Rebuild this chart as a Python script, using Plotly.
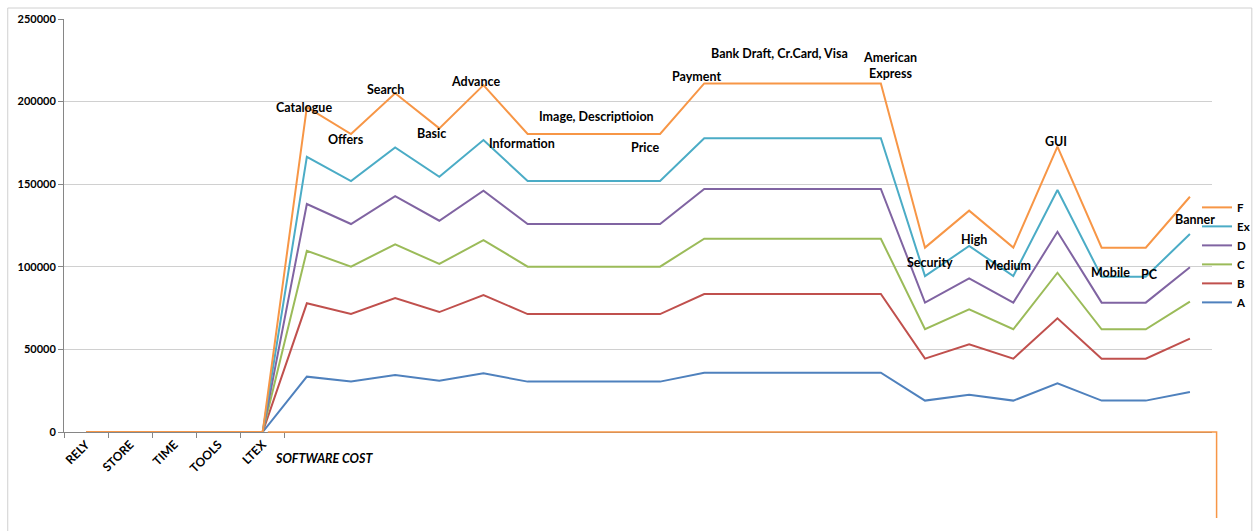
import plotly.graph_objects as go

# ---------------- data ----------------
categories = ["RELY", "STORE", "TIME", "TOOLS", "LTEX", "Catalogue", "Offers", "Search",
              "Basic", "Advance", "Information", "Image", "Description", "Price", "Payment",
              "Bank Draft", "Cr.Card", "Visa", "American Express", "Security", "High",
              "Medium", "GUI", "Mobile", "PC", "Banner"]
tick_labels = ["RELY", "STORE", "TIME", "TOOLS", "LTEX"]

A = [0, 0, 0, 0, 0, 33500, 30500, 34500, 31100, 35500, 30500, 30500, 30500, 30500,
     35900, 35900, 35900, 35900, 35900, 19000, 22600, 19000, 29500, 19000, 19000, 24200]
B = [0, 0, 0, 0, 0, 77900, 71400, 81100, 72600, 82900, 71400, 71400, 71400, 71400,
     83500, 83500, 83500, 83500, 83500, 44400, 53100, 44400, 68800, 44400, 44400, 56500]
C = [0, 0, 0, 0, 0, 109700, 100100, 113600, 101700, 116200, 100100, 100100, 100100, 100100,
     117000, 117000, 117000, 117000, 117000, 62200, 74300, 62200, 96400, 62200, 62200, 78900]
D = [0, 0, 0, 0, 0, 138000, 125900, 142800, 127900, 146100, 125900, 125900, 125900, 125900,
     147100, 147100, 147100, 147100, 147100, 78300, 93000, 78300, 121200, 78300, 78300, 99700]
Ex = [0, 0, 0, 0, 0, 166600, 151900, 172300, 154500, 176700, 151900, 151900, 151900, 151900,
      177800, 177800, 177800, 177800, 177800, 94400, 112600, 94400, 146500, 94000, 94000, 119800]
F = [0, 0, 0, 0, 0, 196700, 180400, 205000, 183800, 210000, 180400, 180400, 180400, 180400,
     211000, 211000, 211000, 211000, 211000, 111600, 134000, 111600, 172700, 111600, 111600, 142400]

series = [("A", A, "#4F81BD"), ("B", B, "#C0504D"), ("C", C, "#9BBB59"),
          ("D", D, "#8064A2"), ("Ex", Ex, "#4BACC6"), ("F", F, "#F79646")]

# point annotations (text, x position in category index, y value)
notes = [
    ("Catalogue", 4.93, 196700), ("Offers", 5.88, 177300), ("Search", 6.77, 207600),
    ("Basic", 7.83, 180400), ("Advance", 8.83, 212400), ("Information", 9.87, 174900),
    ("Image, Descriptioion", 11.57, 190700), ("Price", 12.65, 172500),
    ("Payment", 13.83, 214900), ("Bank Draft, Cr.Card, Visa", 15.71, 229400),
    ("American<br>Express", 18.2, 222100), ("Security", 19.11, 102900),
    ("High", 20.11, 116800), ("Medium", 20.88, 100500), ("GUI", 21.96, 176100),
    ("Mobile", 23.21, 96800), ("PC", 24.09, 95600), ("Banner", 25.11, 128900),
]

FONT = "Lato"
xs = list(range(len(categories)))

fig = go.Figure()
for name, vals, col in series:
    fig.add_trace(go.Scatter(x=xs, y=vals, mode="lines", name=name,
                             line=dict(color=col, width=2),
                             customdata=categories,
                             hovertemplate="%{customdata}: %{y}<extra>" + name + "</extra>"))

annotations = []
for txt, ax, ay in notes:
    annotations.append(dict(x=ax, y=ay, xref="x", yref="y", text="<b>" + txt + "</b>",
                            showarrow=False, xanchor="center", yanchor="middle",
                            font=dict(family=FONT, size=12.5, color="#000000")))
annotations.append(dict(x=4.23, y=-0.065, xref="x", yref="paper",
                        text="<b><i>SOFTWARE COST</i></b>", showarrow=False,
                        xanchor="left", yanchor="middle",
                        font=dict(family=FONT, size=12.5, color="#000000")))

shapes = [
    # outer chart border
    dict(type="rect", xref="paper", yref="paper", x0=-0.049, x1=1.0347, y0=-0.3, y1=1.0266,
         line=dict(color="#D0D0D0", width=1), layer="below"),
    # orange outline along axis
    dict(type="path", xref="paper", yref="paper",
         path="M 0.1775 0 L 1.004 0 L 1.004 -0.208",
         line=dict(color="#F79646", width=1.5)),
]

fig.update_layout(
    width=1255, height=531,
    margin=dict(l=64, r=43, t=19, b=99, autoexpand=False),
    paper_bgcolor="white", plot_bgcolor="white",
    font=dict(family=FONT, size=11, color="#000000"),
    showlegend=True,
    legend=dict(xref="container", yref="container", x=0.9538, y=0.52,
                xanchor="left", yanchor="middle",
                traceorder="reversed", bgcolor="rgba(0,0,0,0)",
                font=dict(family=FONT, size=11.5, color="#000000", weight="bold"),
                itemwidth=30, tracegroupgap=0),
    annotations=annotations,
    shapes=shapes,
    xaxis=dict(range=[-0.5, 25.5], tickmode="array", tickvals=list(range(len(tick_labels))),
               ticktext=["<b>" + t + "</b>" for t in tick_labels], tickangle=-45,
               ticks="", showgrid=False, zeroline=False,
               showline=True, linecolor="#868686", linewidth=1,
               tickfont=dict(family=FONT, size=12, color="#000000"),
               minor=dict(tickmode="array", tickvals=[-0.5, 0.5, 1.5, 2.5, 3.5, 4.5],
                          ticks="outside", ticklen=5, tickcolor="#868686", showgrid=False)),
    yaxis=dict(range=[0, 250000], tickmode="linear", tick0=0, dtick=50000, tickformat="d",
               showgrid=True, gridcolor="#D0D0D0", gridwidth=1, zeroline=False,
               showline=True, linecolor="#868686", linewidth=1,
               ticks="outside", ticklen=5, tickcolor="#868686",
               tickfont=dict(family=FONT, size=11, color="#000000", weight="bold")),
)

fig.write_html("out.html")
